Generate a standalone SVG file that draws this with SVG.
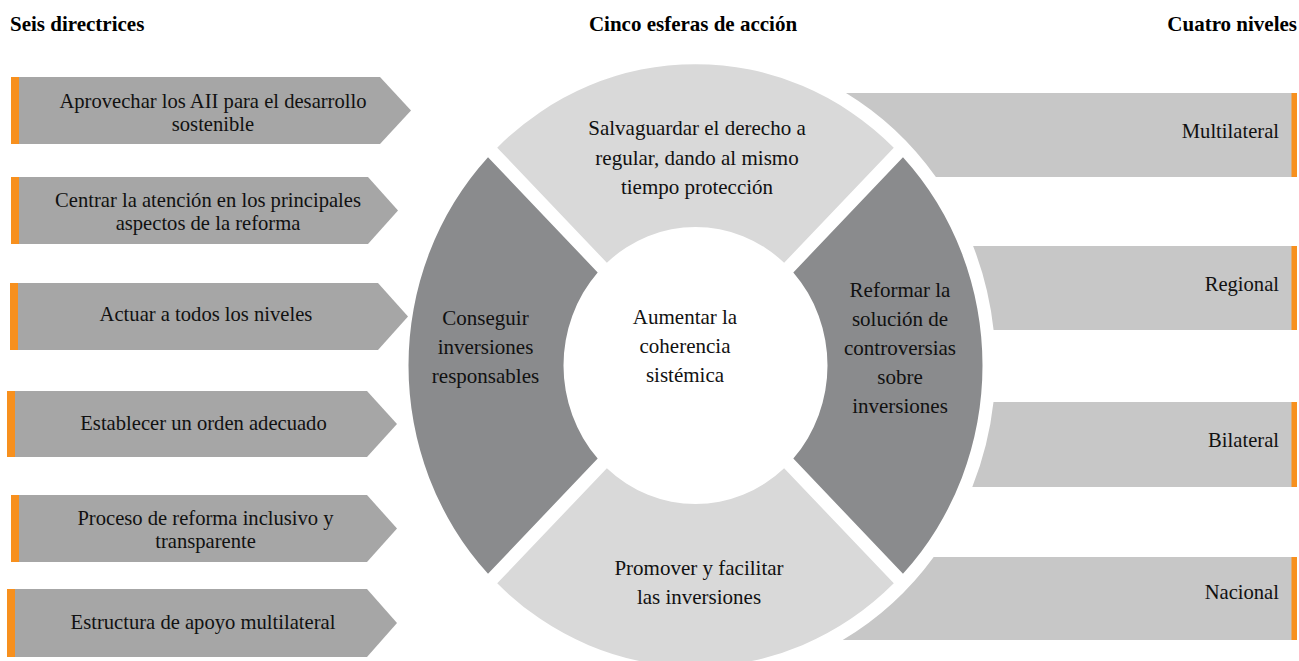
<svg xmlns="http://www.w3.org/2000/svg" width="1299" height="661" viewBox="0 0 1299 661">
<style>
.t{font-family:"Liberation Serif","Times New Roman",serif;font-size:20.6px;fill:#111;}
.r{font-family:"Liberation Serif","Times New Roman",serif;font-size:21px;fill:#111;text-anchor:middle;}
.h{font-family:"Liberation Serif","Times New Roman",serif;font-size:21px;font-weight:bold;fill:#000;}
.m{text-anchor:middle;}
.e{text-anchor:end;}
.arrow{fill:#a6a6a6;}
.bar{fill:#c7c7c7;}
.acc{fill:#f7901e;}
.dark{fill:#8a8b8d;}
.light{fill:#d9d9d9;}
</style>
<defs>
<path id="seg" d="M -198.29 -207.48 A 287 287 0 0 1 198.29 -207.48 L 88.63 -97.82 A 132 132 0 0 0 -88.63 -97.82 Z"/>
</defs>
<rect width="1299" height="661" fill="#fff"/>
<g id="headers">
<text class="h" x="10" y="31">Seis directrices</text>
<text class="h m" x="693" y="31">Cinco esferas de acción</text>
<text class="h e" x="1297" y="31">Cuatro niveles</text>
</g>
<g id="connectors"></g>
<g id="d1"><polygon class="arrow" points="19,77 380,77 411,110.5 380,144 19,144"/><rect class="acc" x="11" y="77" width="8" height="67"/>
<text class="t m" x="213" y="108">Aprovechar los AII para el desarrollo</text><text class="t m" x="213" y="130.5">sostenible</text></g>
<g id="d2"><polygon class="arrow" points="19,177 368,177 398,210.5 368,244 19,244"/><rect class="acc" x="11" y="177" width="8" height="67"/>
<text class="t m" x="208" y="207">Centrar la atención en los principales</text><text class="t m" x="208" y="230">aspectos de la reforma</text></g>
<g id="d3"><polygon class="arrow" points="18,283 378,283 408,316.5 378,350 18,350"/><rect class="acc" x="10" y="283" width="8" height="67"/>
<text class="t m" x="206" y="321">Actuar a todos los niveles</text></g>
<g id="d4"><polygon class="arrow" points="15,391 367,391 397,424 367,457 15,457"/><rect class="acc" x="7" y="391" width="8" height="66"/>
<text class="t m" x="203.5" y="430">Establecer un orden adecuado</text></g>
<g id="d5"><polygon class="arrow" points="19,495 367,495 397,528.5 367,562 19,562"/><rect class="acc" x="11" y="495" width="8" height="67"/>
<text class="t m" x="205.5" y="525">Proceso de reforma inclusivo y</text><text class="t m" x="205.5" y="548">transparente</text></g>
<g id="d6"><polygon class="arrow" points="15,589 367,589 397,623 367,657 15,657"/><rect class="acc" x="7" y="589" width="8" height="68"/>
<text class="t m" x="203" y="629">Estructura de apoyo multilateral</text></g>
<g id="s-top"><use href="#seg" class="light" transform="translate(695.5 365.5) scale(1 1.05)"/>
<text class="r" x="697" y="135">Salvaguardar el derecho a</text><text class="r" x="697" y="164.5">regular, dando al mismo</text><text class="r" x="697" y="194">tiempo protección</text></g>
<g id="s-right"><use href="#seg" class="dark" transform="translate(695.5 365.5) scale(1 1.05) rotate(90)"/>
<text class="r" x="900" y="297">Reformar la</text><text class="r" x="900" y="326">solución de</text><text class="r" x="900" y="355">controversias</text><text class="r" x="900" y="384">sobre</text><text class="r" x="900" y="413">inversiones</text></g>
<g id="s-bottom"><use href="#seg" class="light" transform="translate(695.5 365.5) scale(1 1.05) rotate(180)"/>
<text class="r" x="699" y="575">Promover y facilitar</text><text class="r" x="699" y="604">las inversiones</text></g>
<g id="s-left"><use href="#seg" class="dark" transform="translate(695.5 365.5) scale(1 1.05) rotate(270)"/>
<text class="r" x="485.5" y="325">Conseguir</text><text class="r" x="485.5" y="354">inversiones</text><text class="r" x="485.5" y="383">responsables</text></g>
<g id="center"><text class="r" x="685" y="324">Aumentar la</text><text class="r" x="685" y="353">coherencia</text><text class="r" x="685" y="382">sistémica</text></g>
<g id="n1"><path class="bar" d="M 846 93 L 1292 93 L 1292 177 L 935.9 177 A 300 315 0 0 0 846 93 Z"/><rect class="acc" x="1291.5" y="93" width="5.5" height="84"/>
<text class="t e" x="1279" y="137.5">Multilateral</text></g>
<g id="n2"><path class="bar" d="M 973.1 246 L 1292 246 L 1292 330 L 993.6 330 A 300 315 0 0 0 973.1 246 Z"/><rect class="acc" x="1291.5" y="246" width="5.5" height="84"/>
<text class="t e" x="1279" y="291">Regional</text></g>
<g id="n3"><path class="bar" d="M 993.5 402 L 1292 402 L 1292 487 L 972.3 487 A 300 315 0 0 0 993.5 402 Z"/><rect class="acc" x="1291.5" y="402" width="5.5" height="85"/>
<text class="t e" x="1279" y="447">Bilateral</text></g>
<g id="n4"><path class="bar" d="M 933.7 557 L 1292 557 L 1292 640 L 842.7 640 A 300 315 0 0 0 933.7 557 Z"/><rect class="acc" x="1291.5" y="557" width="5.5" height="83"/>
<text class="t e" x="1279" y="599">Nacional</text></g>
</svg>
